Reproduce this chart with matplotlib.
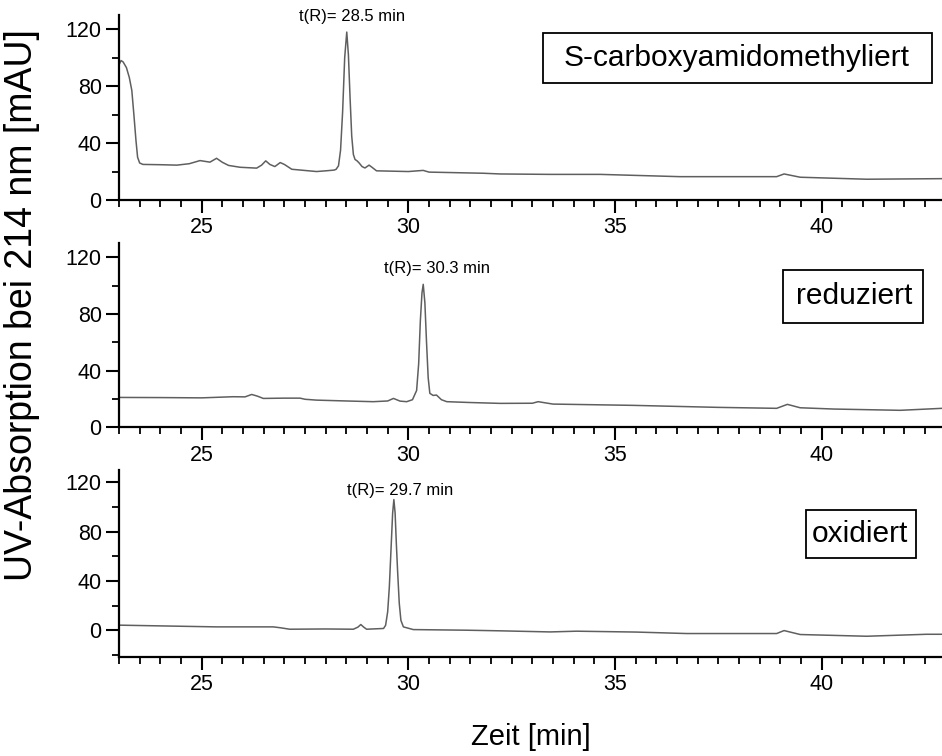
import matplotlib
matplotlib.use('Agg')
import matplotlib.pyplot as plt
from matplotlib.patches import Rectangle
from matplotlib.ticker import MultipleLocator

plt.rcParams['font.family'] = ['Liberation Sans', 'DejaVu Sans']

# S-carboxyamidomethyliert
t_cam = [23.0, 23.05, 23.1, 23.18, 23.25, 23.31, 23.36, 23.41, 23.45, 23.5, 23.58,
         24.0, 24.4, 24.7, 24.96, 25.2, 25.36, 25.5, 25.65, 25.93, 26.33, 26.45,
         26.55, 26.65, 26.77, 26.9, 27.0, 27.18, 27.78, 28.0, 28.2, 28.25, 28.31,
         28.36, 28.41, 28.46, 28.51, 28.55, 28.59, 28.63, 28.67, 28.71, 28.76,
         28.81, 28.88, 28.95, 29.05, 29.12, 29.23, 30.0, 30.36, 30.5, 31.81, 32.22,
         33.43, 34.64, 36.57, 38.91, 39.09, 39.48, 41.09, 42.91]
y_cam = [95, 98, 97, 93, 86, 77, 60, 42, 30, 26, 25,
         24.8, 24.5, 25.5, 27.7, 26.6, 29.3, 26.5, 24.3, 23, 22.4, 24.5,
         27.5, 25, 23.5, 26.3, 25, 21.6, 20, 20.5, 21, 21.5, 24,
         35, 62, 100, 118, 102, 72, 45, 32, 28.5, 27.5,
         26, 23.5, 22.5, 24.5, 23, 20.5, 20, 20.8, 19.6, 18.8, 18.3,
         18, 18, 16.4, 16.4, 18.3, 16, 14.6, 15]

# reduziert
t_red = [23.0, 24.0, 25.0, 25.76, 26.05, 26.21, 26.35, 26.49, 27.0, 27.38, 27.5,
         27.78, 28.5, 29.15, 29.5, 29.64, 29.8, 29.96, 30.1, 30.2, 30.25, 30.29,
         30.33, 30.36, 30.4, 30.44, 30.48, 30.52, 30.6, 30.68, 30.8, 30.93, 31.5,
         32.22, 33.0, 33.14, 33.5, 35.44, 37.46, 38.91, 39.17, 39.48, 40.29, 41.9,
         42.91]
y_red = [21.1, 21.0, 20.8, 21.6, 21.5, 23.2, 22, 20.4, 20.6, 20.6, 19.8,
         19.2, 18.6, 18.1, 18.6, 20.4, 18.5, 18.1, 19.5, 26, 45, 75,
         95, 101, 88, 60, 35, 24, 22.5, 22.8, 19.5, 18.1, 17.5,
         16.9, 17, 18.1, 16.4, 15.5, 14.1, 13.4, 16.2, 13.8, 12.9, 12,
         13.4]

# oxidiert
t_ox = [23.0, 24.0, 25.36, 26.73, 26.9, 27.13, 28.0, 28.67, 28.78, 28.85, 28.92,
        28.99, 29.4, 29.45, 29.5, 29.54, 29.58, 29.62, 29.65, 29.68, 29.71, 29.74,
        29.78, 29.82, 29.88, 30.12, 31.41, 32.22, 33.43, 34.07, 35.5, 36.73, 38.91,
        39.09, 39.48, 41.09, 42.54, 42.91]
y_ox = [4.1, 3.5, 2.7, 2.7, 2.0, 0.8, 1.0, 0.8, 2.5, 4.6, 2.5,
        0.8, 1.4, 4, 15, 35, 65, 95, 106, 95, 70, 48,
        22, 8, 2.7, 0.5, 0, -0.5, -1.4, -0.8, -1.5, -2.7, -2.7,
        -0.3, -3.5, -4.9, -3.3, -3.3]

labels = ['S-carboxyamidomethyliert', 'reduziert', 'oxidiert']
peak_text = ['t(R)= 28.5 min', 't(R)= 30.3 min', 't(R)= 29.7 min']
peak_pos = [(28.65, 129), (30.69, 112), (29.80, 113)]
ylims = [(0, 130), (0, 130), (-21.5, 130)]

W, H = 942, 756
fig = plt.figure(figsize=(W / 100, H / 100), dpi=100)

# panel frames in pixels: (top, bottom)
panels = [(15, 200), (243.3, 427.3), (470, 656.7)]
left_px, width_px = 119, 826.7
# label boxes in pixels: (x0, y0, x1, y1), text centre
boxes = [((543, 33, 932, 83), (736.5, 58)),
         ((782.7, 270, 922.7, 322.7), (853.8, 296)),
         ((805.7, 510, 915.7, 557.7), (859.5, 534))]

series = [(t_cam, y_cam), (t_red, y_red), (t_ox, y_ox)]

for i, ((top, bot), (t, y)) in enumerate(zip(panels, series)):
    ax = fig.add_axes([left_px / W, 1 - bot / H, width_px / W, (bot - top) / H])
    ax.plot(t, y, color='#5f5f5f', lw=1.1)
    ax.set_xlim(23, 43)
    ax.set_ylim(*ylims[i])
    ax.xaxis.set_major_locator(MultipleLocator(5))
    ax.xaxis.set_minor_locator(MultipleLocator(0.5))
    ax.yaxis.set_major_locator(MultipleLocator(40))
    ax.yaxis.set_minor_locator(MultipleLocator(20))
    ax.spines['top'].set_visible(False)
    ax.spines['right'].set_visible(False)
    for s in ('left', 'bottom'):
        ax.spines[s].set_linewidth(1.6)
    ax.tick_params(which='major', direction='out', length=9.5, width=1.5,
                   labelsize=15.5, pad=3)
    ax.tick_params(which='minor', direction='out', length=5, width=1.3)
    ax.text(peak_pos[i][0], peak_pos[i][1], peak_text[i], ha='center',
            va='center', fontsize=12, clip_on=False)

    (x0, y0, x1, y1), (cx, cy) = boxes[i]
    fig.add_artist(Rectangle((x0 / W, 1 - y1 / H), (x1 - x0) / W, (y1 - y0) / H,
                             transform=fig.transFigure, fill=False,
                             edgecolor='black', lw=1.3))
    fig.text(cx / W, 1 - cy / H, labels[i], ha='center', va='center', fontsize=21.5)

fig.text(22 / W, 1 - 305 / H, 'UV-Absorption bei 214 nm [mAU]', rotation=90,
         ha='center', va='center', fontsize=27)
fig.text(531 / W, 1 - 737 / H, 'Zeit [min]', ha='center', va='center', fontsize=21)

fig.savefig('out.png', dpi=100)
